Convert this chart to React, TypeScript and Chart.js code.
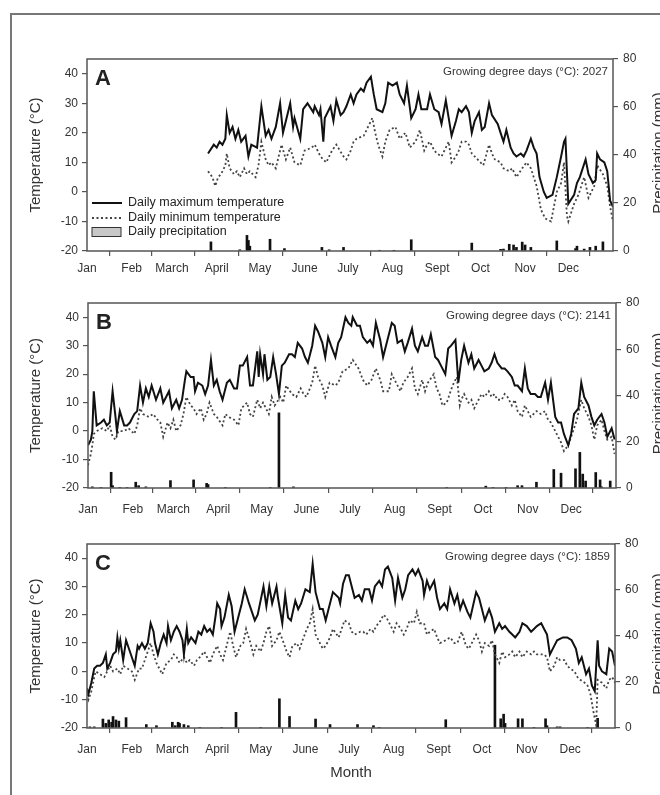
import React, { useEffect, useRef } from "react";
import { Chart, registerables } from "chart.js";

Chart.register(...registerables);

// ---------- axis data ----------
const MONTH_START_DAYS = [0, 31, 59, 90, 120, 151, 181, 212, 243, 273, 304, 334];
const MONTH_LABELS = ["Jan", "Feb", "March", "April", "May", "June", "July", "Aug", "Sept", "Oct", "Nov", "Dec"];
const TEMP_TICKS = [-20, -10, 0, 10, 20, 30, 40];
const PRECIP_TICKS = [0, 20, 40, 60, 80];
const PANEL_LETTERS = ["A", "B", "C"];
const GDD_VALUES = [2027, 2141, 1859];

// ---------- panel A: [day of year, value] ----------
const A_MAX_TEMP = [[84,13],[88,16],[90,15],[92,17],[94,16],[96,18],[97,26],[99,20],[101,22],[103,18],[105,21],[107,17],[110,19],[112,12],[114,16],[118,15],[121,29],[124,19],[126,21],[128,18],[131,22],[134,30],[136,20],[141,30],[143,22],[144,25],[148,18],[150,28],[153,30],[157,27],[158,29],[161,26],[162,28],[164,17],[165,25],[169,29],[171,24],[173,31],[176,26],[178,27],[180,29],[183,33],[185,30],[187,33],[190,35],[192,34],[194,37],[197,39],[199,33],[201,28],[205,27],[207,30],[209,37],[212,36],[215,37],[217,33],[220,30],[222,36],[225,25],[228,28],[230,33],[232,28],[236,28],[238,33],[241,28],[244,27],[246,23],[249,31],[251,25],[253,19],[256,24],[258,28],[260,27],[263,29],[265,27],[267,20],[269,24],[272,27],[274,21],[276,22],[279,30],[281,26],[285,23],[287,20],[289,17],[291,21],[294,15],[296,13],[298,12],[301,13],[303,12],[305,14],[308,18],[310,15],[312,13],[314,5],[317,0],[319,-2],[323,-1],[326,5],[329,12],[331,17],[332,18],[334,-4],[338,-1],[340,3],[342,5],[346,11],[348,6],[351,3],[353,4],[354,13],[356,11],[359,10],[361,7],[363,-3],[365,-5]];
const A_MIN_TEMP = [[84,7],[87,5],[89,2],[91,5],[93,6],[96,9],[97,13],[99,8],[102,6],[104,7],[106,5],[109,8],[111,6],[113,7],[117,5],[119,9],[121,17],[124,11],[126,9],[128,10],[131,8],[133,12],[135,16],[138,11],[141,15],[144,10],[148,9],[151,14],[156,15],[158,16],[162,12],[166,10],[170,14],[173,16],[178,12],[180,11],[183,14],[185,17],[187,18],[192,19],[195,22],[198,25],[200,20],[202,16],[205,12],[207,17],[210,21],[214,22],[217,18],[221,20],[224,15],[228,17],[231,21],[234,14],[236,16],[238,17],[241,14],[243,13],[246,12],[249,15],[251,17],[253,10],[256,12],[258,14],[260,17],[263,17],[265,16],[267,13],[269,12],[273,10],[275,9],[279,16],[281,13],[283,11],[287,10],[289,8],[293,7],[295,8],[298,5],[302,8],[305,10],[308,8],[310,5],[312,2],[315,-6],[318,-9],[322,-10],[324,-5],[326,0],[329,3],[331,10],[333,-8],[334,-10],[338,-4],[341,-1],[345,5],[348,-2],[352,2],[354,9],[358,6],[361,2],[363,-5],[365,-10]];
const A_PRECIP = [[86,3.8],[106,0.5],[111,6.5],[112,4.4],[113,2],[127,4.9],[137,1],[163,1.5],[168,0.5],[178,1.5],[203,0.3],[213,0.3],[225,4.7],[267,3.3],[287,0.7],[289,0.8],[293,2.8],[296,2.5],[298,1.5],[302,3.7],[304,2.5],[308,1.5],[326,4.2],[339,1],[340,2],[345,0.8],[349,1.5],[353,2],[358,3.8]];

// ---------- panel B ----------
const B_MAX_TEMP = [[0,-5],[2,-3],[3,0],[4,14],[5,8],[6,2],[9,3],[11,4],[13,2],[15,3],[17,14],[19,5],[20,0],[22,7],[25,2],[27,2],[29,3],[32,6],[34,7],[36,16],[38,10],[40,15],[42,12],[44,16],[47,11],[50,15],[52,10],[56,14],[58,8],[61,11],[63,8],[65,11],[67,18],[68,21],[71,19],[73,19],[74,14],[76,17],[79,16],[81,13],[83,16],[85,25],[87,16],[89,18],[91,14],[93,11],[96,17],[98,18],[101,15],[103,15],[105,23],[107,23],[110,26],[112,16],[114,16],[117,28],[118,19],[119,27],[121,20],[122,27],[124,18],[126,19],[128,26],[130,20],[132,13],[134,23],[136,24],[139,27],[141,27],[143,26],[145,31],[148,29],[150,26],[152,24],[155,30],[157,37],[159,35],[162,31],[164,26],[166,33],[168,30],[171,26],[173,31],[175,33],[178,40],[180,38],[182,37],[183,40],[186,37],[188,37],[190,33],[193,31],[195,32],[197,30],[199,38],[202,32],[204,26],[206,30],[210,38],[212,37],[214,31],[217,32],[219,28],[221,31],[224,36],[226,30],[228,28],[231,33],[233,30],[235,30],[237,34],[240,26],[242,25],[244,23],[247,20],[249,29],[251,30],[254,32],[256,17],[258,25],[260,30],[263,24],[265,27],[267,22],[270,25],[272,23],[274,21],[277,22],[279,24],[281,27],[283,24],[286,22],[288,22],[290,21],[293,19],[295,16],[297,16],[300,14],[302,22],[304,15],[306,13],[309,13],[311,12],[313,12],[316,17],[318,11],[320,17],[323,5],[325,3],[327,3],[329,-1],[332,-5],[334,-1],[336,6],[339,8],[341,17],[343,12],[346,9],[348,5],[350,2],[352,4],[355,6],[357,3],[359,-2],[362,1],[364,-3]];
const B_MIN_TEMP = [[0,-12],[2,-8],[3,-5],[4,-1],[6,0],[10,1],[13,0],[15,2],[17,-2],[19,-3],[21,0],[25,0],[28,1],[32,-1],[34,2],[36,8],[38,6],[42,5],[45,6],[48,4],[50,3],[52,-2],[55,3],[57,1],[59,4],[61,0],[64,2],[66,6],[68,12],[71,9],[73,8],[75,6],[78,8],[80,4],[82,6],[84,10],[87,6],[89,5],[93,2],[95,6],[97,5],[101,4],[104,2],[106,8],[110,10],[112,6],[114,5],[117,11],[119,8],[121,10],[125,6],[127,12],[129,9],[133,12],[135,10],[137,16],[141,13],[144,12],[147,15],[149,13],[151,12],[155,17],[157,23],[159,19],[162,16],[164,12],[167,17],[171,16],[173,17],[176,21],[180,22],[183,25],[187,22],[190,18],[193,16],[196,18],[199,22],[202,18],[204,14],[208,14],[210,20],[213,17],[216,14],[218,17],[221,19],[224,22],[226,15],[228,13],[231,18],[233,14],[235,17],[239,20],[241,15],[243,13],[245,9],[248,10],[250,13],[252,16],[255,19],[257,9],[258,11],[260,13],[263,10],[265,11],[267,8],[270,11],[272,13],[274,12],[277,14],[279,12],[281,13],[283,11],[286,11],[288,13],[290,12],[293,9],[295,11],[297,7],[300,5],[302,9],[304,7],[306,5],[310,7],[313,6],[316,7],[318,4],[320,3],[323,0],[325,-2],[327,-4],[329,-7],[332,-5],[334,-2],[338,4],[341,11],[343,8],[346,5],[348,2],[350,-3],[352,2],[355,4],[357,0],[359,-3],[362,-2],[364,-8]];
const B_PRECIP = [[3,0.5],[9,0.3],[16,6.8],[17,1],[22,0.3],[27,0.3],[33,2.5],[35,1],[40,0.5],[57,3.2],[73,3.5],[82,2],[83,1.5],[95,0.3],[126,0.3],[132,32.5],[142,0.5],[248,0.3],[275,0.8],[280,0.3],[289,0.3],[297,1],[300,1],[310,2.5],[322,8],[327,6.4],[337,8.3],[340,15.4],[342,6],[344,3],[351,6.7],[354,3.5],[355,0.5],[361,3]];

// ---------- panel C ----------
const C_MAX_TEMP = [[0,-6],[1,-8],[3,-4],[5,1],[7,2],[9,2],[11,3],[13,6],[14,1],[16,3],[18,6],[20,7],[21,12],[22,8],[23,11],[25,4],[27,11],[29,8],[31,5],[33,2],[35,9],[36,8],[38,10],[40,8],[42,10],[44,17],[46,14],[47,10],[49,6],[51,10],[53,13],[55,10],[56,16],[58,11],[60,14],[62,16],[64,14],[66,11],[67,6],[69,15],[70,10],[72,12],[75,10],[77,14],[79,13],[81,16],[83,14],[85,15],[87,13],[89,20],[90,24],[92,22],[93,16],[95,19],[98,27],[100,23],[102,14],[105,20],[107,24],[109,29],[112,24],[114,21],[116,18],[118,20],[120,25],[122,30],[124,23],[126,30],[128,24],[131,30],[132,26],[135,17],[137,27],[139,19],[141,18],[144,25],[146,22],[148,24],[151,29],[154,28],[156,38],[158,28],[161,22],[163,22],[165,18],[167,22],[170,28],[174,26],[175,24],[177,31],[179,34],[181,34],[183,30],[185,26],[188,27],[190,25],[192,29],[195,29],[197,25],[199,30],[202,32],[204,30],[206,36],[208,37],[211,33],[213,25],[215,33],[218,26],[220,29],[222,34],[225,36],[227,34],[229,36],[232,32],[233,27],[235,32],[237,29],[240,32],[242,26],[244,22],[247,24],[249,22],[251,29],[254,24],[256,27],[258,22],[260,25],[263,21],[265,19],[269,28],[271,26],[273,22],[275,18],[278,22],[280,19],[282,14],[285,17],[287,15],[289,16],[292,14],[294,13],[296,12],[299,14],[301,17],[304,16],[307,14],[309,15],[311,16],[314,17],[316,15],[318,13],[320,6],[323,9],[325,11],[329,12],[332,12],[335,11],[338,8],[340,3],[342,5],[345,-1],[347,1],[349,-5],[351,-7],[353,11],[354,2],[356,0],[359,-1],[361,8],[363,7],[365,2]];
const C_MIN_TEMP = [[0,-8],[1,-10],[3,-7],[5,-2],[6,0],[9,-1],[12,-2],[14,0],[16,2],[18,0],[21,1],[23,-1],[25,2],[28,1],[31,0],[33,-3],[36,1],[38,1],[40,4],[44,10],[46,6],[48,3],[51,0],[52,-1],[55,3],[58,4],[60,6],[62,5],[64,3],[67,5],[69,3],[71,4],[74,2],[76,4],[78,5],[81,7],[83,5],[85,3],[87,6],[90,9],[92,6],[94,4],[97,10],[99,14],[101,9],[103,5],[106,9],[108,10],[110,15],[113,10],[115,6],[117,9],[120,7],[122,10],[124,14],[126,16],[128,9],[131,11],[133,14],[136,10],[138,7],[140,5],[142,9],[145,10],[147,8],[149,11],[152,15],[154,17],[156,22],[158,13],[161,10],[163,8],[165,9],[168,12],[170,15],[174,12],[176,15],[178,18],[181,17],[183,14],[185,13],[189,14],[191,14],[193,13],[196,15],[198,14],[200,16],[203,18],[205,20],[207,19],[210,16],[212,14],[214,17],[217,15],[219,13],[221,15],[223,18],[226,17],[228,21],[230,17],[233,17],[235,13],[237,14],[240,15],[242,12],[244,10],[248,11],[251,12],[254,10],[256,10],[259,14],[262,9],[264,8],[266,10],[269,13],[271,11],[273,7],[275,10],[278,9],[280,11],[282,6],[285,3],[287,7],[289,5],[292,6],[294,7],[296,5],[299,7],[301,5],[304,7],[307,6],[309,7],[311,6],[314,6],[316,6],[318,5],[320,0],[323,2],[325,5],[327,4],[330,4],[332,2],[334,1],[337,0],[339,-2],[341,-3],[344,-4],[346,-5],[348,-8],[350,-14],[352,-19],[353,-3],[356,-4],[359,-6],[361,-3],[363,-2],[365,-4]];
const C_PRECIP = [[2,0.5],[5,0.5],[11,3.9],[13,2],[15,3.5],[17,2.5],[18,5],[20,3.5],[22,3],[27,4.5],[41,1.5],[48,1],[59,2.5],[61,1],[63,2.5],[64,2],[67,1.5],[70,1],[78,0.3],[93,0.3],[103,6.8],[120,0.3],[133,12.7],[140,5],[158,3.9],[168,1.5],[187,1.5],[198,1],[202,0.3],[248,3.6],[282,36],[286,4],[288,6],[289,2],[298,4],[301,4],[309,0.3],[317,4],[318,1],[325,0.5],[327,0.5],[346,0.3],[353,4.2]];

const FONT = "'Liberation Sans', Arial, Helvetica, sans-serif";
const TEXT = "#333";
const AXIS = "#555";

type Spec = {
  idx: number;
  top: number; // px within wrapper
  height: number;
  padTop: number;
  leftW: number;
  rightW: number;
  xAxisH: number;
  xPad: number;
  maxT: number[][];
  minT: number[][];
  precip: number[][];
  legend: boolean;
  monthTitle: boolean;
};

const SPECS: Spec[] = [
  { idx: 0, top: 32, height: 240, padTop: 19, leftW: 79, rightW: 47, xAxisH: 29, xPad: 5, maxT: A_MAX_TEMP, minT: A_MIN_TEMP, precip: A_PRECIP, legend: true, monthTitle: false },
  { idx: 1, top: 275, height: 240, padTop: 20, leftW: 80, rightW: 44, xAxisH: 35, xPad: 9, maxT: B_MAX_TEMP, minT: B_MIN_TEMP, precip: B_PRECIP, legend: false, monthTitle: false },
  { idx: 2, top: 516, height: 271, padTop: 20, leftW: 79, rightW: 45, xAxisH: 67, xPad: 9, maxT: C_MAX_TEMP, minT: C_MIN_TEMP, precip: C_PRECIP, legend: false, monthTitle: true },
];

const pts = (arr: number[][]) => arr.map(([x, y]) => ({ x, y }));

function decorPlugin(spec: Spec) {
  return {
    id: "decor" + spec.idx,
    afterDatasetsDraw(chart: any) {
      const { ctx, chartArea: a } = chart;
      ctx.save();
      ctx.strokeStyle = AXIS;
      ctx.lineWidth = 1.5;
      ctx.strokeRect(a.left, a.top, a.right - a.left, a.bottom - a.top);
      ctx.fillStyle = "#222";
      ctx.font = `bold 22px ${FONT}`;
      ctx.textAlign = "left";
      ctx.textBaseline = "middle";
      ctx.fillText(PANEL_LETTERS[spec.idx], a.left + 8, a.top + 20);
      ctx.fillStyle = TEXT;
      ctx.font = `11.5px ${FONT}`;
      ctx.textAlign = "right";
      ctx.fillText(`Growing degree days (°C): ${GDD_VALUES[spec.idx]}`, a.right - 5, a.top + 13);
      if (spec.legend) {
        const lx = a.left + 5;
        const rows = [a.top + 144, a.top + 159, a.top + 173];
        ctx.lineWidth = 2;
        ctx.strokeStyle = "#111";
        ctx.beginPath();
        ctx.moveTo(lx, rows[0]);
        ctx.lineTo(lx + 30, rows[0]);
        ctx.stroke();
        ctx.setLineDash([2, 2.5]);
        ctx.strokeStyle = "#444";
        ctx.lineWidth = 1.8;
        ctx.beginPath();
        ctx.moveTo(lx, rows[1]);
        ctx.lineTo(lx + 30, rows[1]);
        ctx.stroke();
        ctx.setLineDash([]);
        ctx.fillStyle = "#c8c8c8";
        ctx.fillRect(lx, rows[2] - 4.5, 29, 9);
        ctx.strokeStyle = "#333";
        ctx.lineWidth = 1;
        ctx.strokeRect(lx, rows[2] - 4.5, 29, 9);
        ctx.fillStyle = "#222";
        ctx.font = `12.5px ${FONT}`;
        ctx.textAlign = "left";
        ctx.textBaseline = "middle";
        ctx.fillText("Daily maximum temperature", lx + 36, rows[0]);
        ctx.fillText("Daily minimum temperature", lx + 36, rows[1]);
        ctx.fillText("Daily precipitation", lx + 36, rows[2]);
      }
      // right axis title, reading bottom to top (partly cut by the page edge)
      ctx.fillStyle = TEXT;
      ctx.font = `15px ${FONT}`;
      ctx.textAlign = "center";
      ctx.textBaseline = "alphabetic";
      ctx.translate(654.5, (a.top + a.bottom) / 2 - 2);
      ctx.rotate(-Math.PI / 2);
      ctx.fillText("Precipitation (mm)", 0, 0);
      ctx.restore();
    },
  };
}

function makeConfig(spec: Spec): any {
  const tickFont = { family: FONT, size: 12 };
  const tickGrid = { display: true, drawOnChartArea: false, drawTicks: true, tickLength: 5, color: AXIS, lineWidth: 1.2 };
  return {
    type: "line",
    data: {
      datasets: [
        {
          type: "line",
          label: "Daily maximum temperature",
          data: pts(spec.maxT),
          yAxisID: "y",
          borderColor: "#111",
          borderWidth: 2,
          pointRadius: 0,
          tension: 0,
          order: 1,
        },
        {
          type: "line",
          label: "Daily minimum temperature",
          data: pts(spec.minT),
          yAxisID: "y",
          borderColor: "#444",
          borderWidth: 1.8,
          borderDash: [2, 2.5],
          pointRadius: 0,
          tension: 0,
          order: 2,
        },
        {
          type: "bar",
          label: "Daily precipitation",
          data: pts(spec.precip),
          yAxisID: "y2",
          backgroundColor: "#111",
          borderWidth: 0,
          barThickness: 2,
          order: 3,
        },
      ],
    },
    options: {
      responsive: false,
      animation: false,
      events: [],
      layout: { padding: { top: spec.padTop, left: 0, right: 0, bottom: 0 } },
      plugins: { legend: { display: false }, tooltip: { enabled: false } },
      scales: {
        x: {
          type: "linear",
          position: "bottom",
          min: 0,
          max: 365,
          offset: false,
          afterBuildTicks: (s: any) => {
            s.ticks = MONTH_START_DAYS.map((v) => ({ value: v }));
          },
          afterFit: (s: any) => {
            s.height = spec.xAxisH;
          },
          ticks: {
            autoSkip: false,
            maxRotation: 0,
            color: TEXT,
            font: tickFont,
            padding: spec.xPad,
            callback: (_v: any, i: number) => MONTH_LABELS[i],
          },
          grid: tickGrid,
          border: { display: false },
          title: spec.monthTitle
            ? { display: true, text: "Month", color: TEXT, font: { family: FONT, size: 15 }, padding: { top: 0, bottom: 13 } }
            : { display: false },
        },
        y: {
          type: "linear",
          position: "left",
          min: -20,
          max: 45,
          afterBuildTicks: (s: any) => {
            s.ticks = TEMP_TICKS.map((v) => ({ value: v }));
          },
          afterFit: (s: any) => {
            s.width = spec.leftW;
          },
          ticks: { color: TEXT, font: tickFont, padding: 4 },
          grid: tickGrid,
          border: { display: false },
          title: { display: true, text: "Temperature (°C)", color: TEXT, font: { family: FONT, size: 15 }, padding: { top: 19, bottom: 0 } },
        },
        y2: {
          type: "linear",
          position: "right",
          min: 0,
          max: 80,
          afterBuildTicks: (s: any) => {
            s.ticks = PRECIP_TICKS.map((v) => ({ value: v }));
          },
          afterFit: (s: any) => {
            s.width = spec.rightW;
          },
          ticks: { color: TEXT, font: tickFont, padding: 5 },
          grid: tickGrid,
          border: { display: false },
        },
      },
    },
    plugins: [decorPlugin(spec)],
  };
}

function Panel({ spec }: { spec: Spec }) {
  const ref = useRef<HTMLCanvasElement | null>(null);
  useEffect(() => {
    if (!ref.current) return;
    const chart = new Chart(ref.current, makeConfig(spec));
    return () => chart.destroy();
  }, [spec]);
  return (
    <canvas
      ref={ref}
      width={652}
      height={spec.height}
      style={{ position: "absolute", left: 0, top: spec.top, width: 652, height: spec.height }}
    />
  );
}

export default function App() {
  return (
    <div
      style={{
        position: "fixed",
        left: 8,
        top: 8,
        width: 652,
        height: 787,
        overflow: "hidden",
        background: "#fff",
      }}
    >
      <div
        style={{
          position: "absolute",
          left: 2,
          top: 5,
          width: 720,
          height: 820,
          border: "2px solid #777",
          boxSizing: "border-box",
        }}
      />
      {SPECS.map((s) => (
        <Panel key={s.idx} spec={s} />
      ))}
    </div>
  );
}
